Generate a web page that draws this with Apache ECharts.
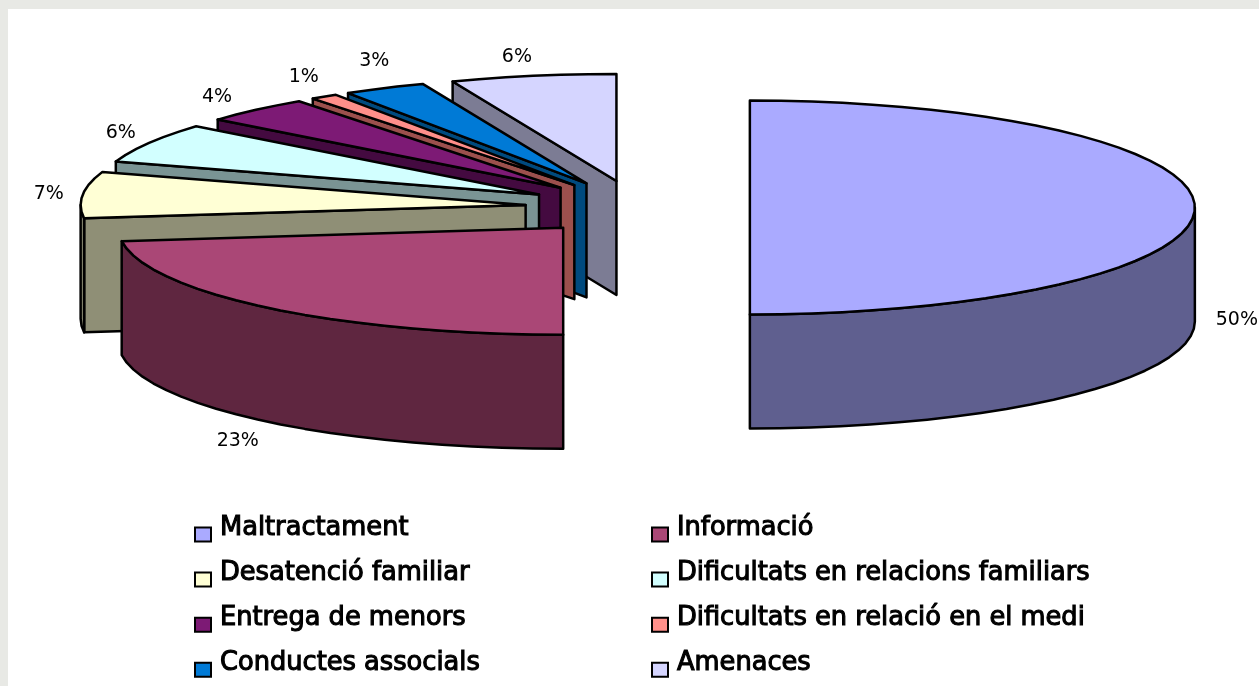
<!DOCTYPE html>
<html><head><meta charset="utf-8">
<style>html,body{margin:0;padding:0;background:#fff}#c{width:1259px;height:686px}</style>
<script src="https://cdn.jsdelivr.net/npm/echarts@6/dist/echarts.min.js"></script>
</head><body><div id="c"></div>
<script>
const categories = ['Maltractament','Informació','Desatenció familiar','Dificultats en relacions familiars','Entrega de menors','Dificultats en relació en el medi','Conductes associals','Amenaces'];
const values = [50,23,7,6,4,1,3,6];
const topColors = ['#AAAAFF','#AA4776','#FFFFD5','#D2FFFF','#7D1A75','#FF8F8A','#007AD6','#D5D5FF'];
const sideColors = ['#5F5F8F','#5F2640','#8F8F76','#7A9494','#440A40','#9C504D','#004A7E','#7C7C94'];
const labelNudgeX = [4,-6,4,5,-13,1,7,-9];
const labelNudgeY = [-1,0,2,2,5,1,-5,6];

const W = 1259, H = 686;
const cx = 637.5, cy = 207.5, rx = 445, ry = 107;  // pie frame in pixels
const depth = 114 / ry, explode = 0.2525;
const gapX = 38 / rx, gapY = 25 / ry;

const total = values.reduce((a, b) => a + b, 0);
const rad = d => d * Math.PI / 180;
const starts = [];
values.reduce((acc, v, i) => { starts[i] = acc; return acc + v; }, 0);

function renderSlice(i, params, api) {
  const t1 = starts[i] / total * 360, t2 = (starts[i] + values[i]) / total * 360, mid = (t1 + t2) / 2;
  const ox = explode * Math.sin(rad(mid)), oy = explode * Math.cos(rad(mid));
  const rim = (t, d) => api.coord([ox + Math.sin(rad(t)), oy + Math.cos(rad(t)) - (d || 0)]);
  const apex = d => api.coord([ox, oy - (d || 0)]);
  const arc = (a, b, d) => { const p = []; const n = Math.max(1, Math.ceil((b - a) / 4));
    for (let k = 0; k <= n; k++) p.push(rim(a + (b - a) * k / n, d)); return p; };
  const line = { stroke: '#000', lineWidth: 2.5, lineJoin: 'round' };
  const children = [];
  if (t1 > 180) {
    children.push({ type: 'polygon', shape: { points: [apex(), rim(t1), rim(t1, depth), apex(depth)] },
      style: Object.assign({ fill: sideColors[i] }, line) });
  }
  const w1 = Math.max(t1, 90), w2 = Math.min(t2, 270);
  if (w2 > w1) {
    children.push({ type: 'polygon', shape: { points: arc(w1, w2, 0).concat(arc(w1, w2, depth).reverse()) },
      style: Object.assign({ fill: sideColors[i] }, line) });
  }
  children.push({ type: 'polygon', shape: { points: [apex()].concat(arc(t1, t2, 0)) },
    style: Object.assign({ fill: topColors[i] }, line) });
  const front = Math.cos(rad(mid)) <= 0.0001;
  const lp = api.coord([
    ox + Math.sin(rad(mid)) * (1 + gapX),
    oy + Math.cos(rad(mid)) * (1 + gapY) - (front ? depth : 0)
  ]);
  children.push({ type: 'text', x: lp[0] + labelNudgeX[i], y: lp[1] + labelNudgeY[i], style: {
    text: Math.round(values[i] / total * 100) + '%', fill: '#000',
    font: '19px "DejaVu Sans"', textAlign: 'center', textVerticalAlign: 'middle' } });
  return { type: 'group', children };
}

const order = categories.map((_, i) => i).reverse();
const series = order.map(i => ({
  type: 'custom', name: categories[i], coordinateSystem: 'cartesian2d', clip: false,
  itemStyle: { color: topColors[i] },
  data: [[0, values[i]]],
  renderItem: (p, api) => renderSlice(i, p, api)
}));

const legendStyle = { rich: { a: { fontFamily: '"DejaVu Sans"', fontSize: 25.7, color: '#000',
  textBorderColor: '#000', textBorderWidth: 1.1, padding: [0, 0, 12, 4] } } };
const legendItem = i => ({ name: categories[i], icon: 'rect',
  itemStyle: { color: topColors[i], borderColor: '#000', borderWidth: 2 } });
const mkLegend = (left, idx) => ({ orient: 'vertical', left, top: 515, height: 171, itemWidth: 16, itemHeight: 14, itemGap: 17.5,
  padding: 0, selectedMode: false, formatter: '{a|{name}}', textStyle: legendStyle, data: idx.map(legendItem) });

const chart = echarts.init(document.getElementById('c'), null, { renderer: 'canvas', width: W, height: H });
chart.setOption({
  animation: false,
  backgroundColor: '#E8E9E5',
  graphic: [{ type: 'rect', z: -10, shape: { x: 8, y: 9, width: W - 8, height: H - 9 }, style: { fill: '#fff' } }],
  grid: { left: 0, top: 0, width: W, height: H },
  xAxis: { type: 'value', show: false, min: -cx / rx, max: (W - cx) / rx },
  yAxis: { type: 'value', show: false, min: -(H - cy) / ry, max: cy / ry },
  legend: [mkLegend(194, [0, 2, 4, 6]), mkLegend(651, [1, 3, 5, 7])],
  series
});
</script></body></html>
